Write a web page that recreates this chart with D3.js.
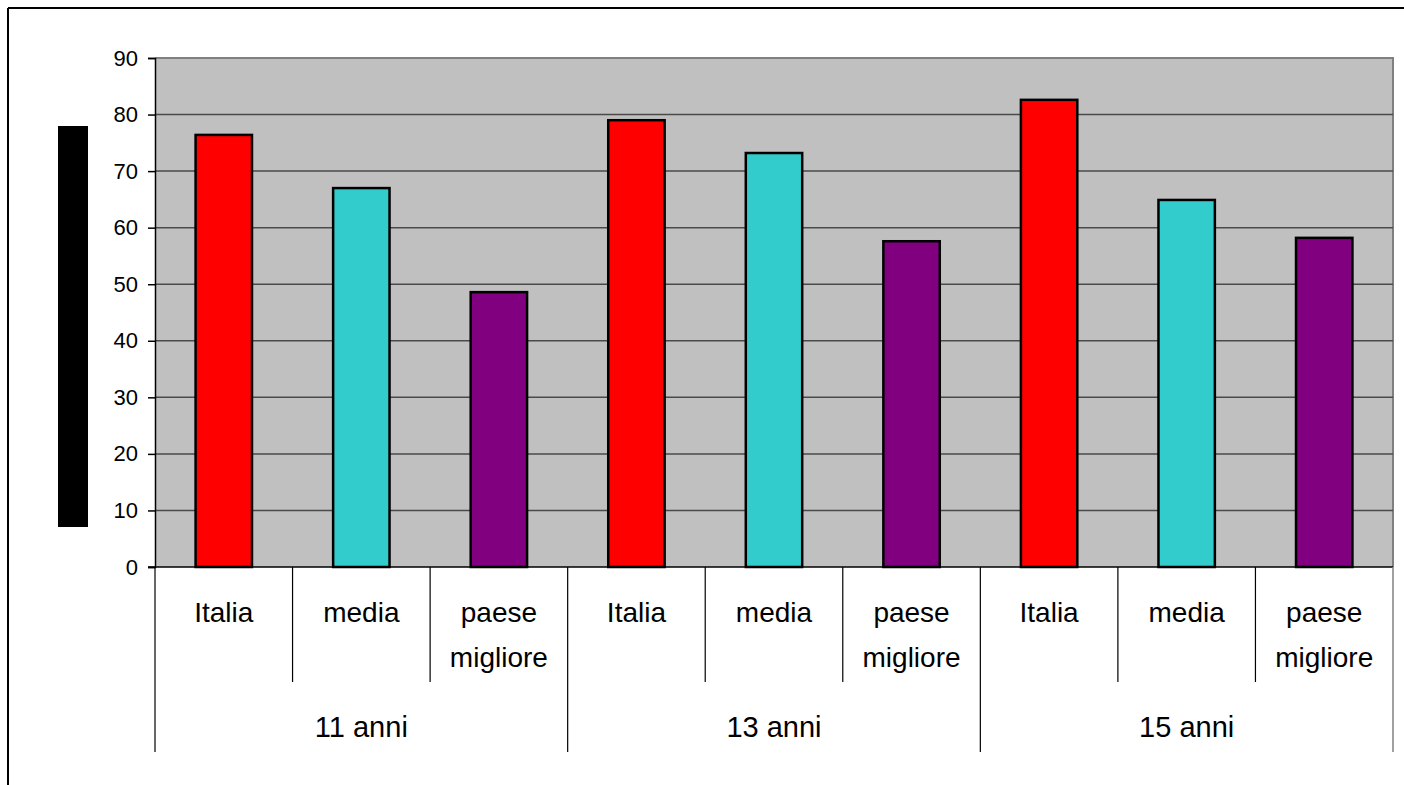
<!DOCTYPE html>
<html>
<head>
<meta charset="utf-8">
<script src="https://d3js.org/d3.v7.min.js"></script>
<style>
  html, body { margin: 0; padding: 0; background: #fff; }
  svg { display: block; font-family: Arial, "Liberation Sans", sans-serif; }
</style>
</head>
<body>
<svg id="chart" width="1404" height="785"></svg>
<script>
// ── Daten ─────────────────────────────────────────
const groups = ['11 anni', '13 anni', '15 anni'];
const series = ['Italia', 'media', 'paese migliore'];
const italia = [76.4, 79.0, 82.6];
const media  = [67.0, 73.2, 64.9];
const paese  = [48.6, 57.6, 58.2];
const yTicks = [0, 10, 20, 30, 40, 50, 60, 70, 80, 90];
const colors = ['#FF0000', '#33CCCC', '#800080'];

const values = [italia, media, paese];
const data = [];
groups.forEach((g, gi) => {
  series.forEach((s, si) => data.push({ group: g, serie: s, value: values[si][gi], idx: si }));
});

// ── Layout ─────────────────────────────────────────
const plotL = 155, plotR = 1393, plotT = 58, plotB = 567;
const svg = d3.select('#chart');

// Rahmen
svg.append('line').attr('x1', 8).attr('y1', 8).attr('x2', 1404).attr('y2', 8)
  .attr('stroke', '#000').attr('stroke-width', 2);
svg.append('line').attr('x1', 8).attr('y1', 8).attr('x2', 8).attr('y2', 785)
  .attr('stroke', '#000').attr('stroke-width', 2);

// Achsentitel (als schwarzer Block)
svg.append('rect').attr('x', 58).attr('y', 126).attr('width', 30).attr('height', 401).attr('fill', '#000');

const x0 = d3.scaleBand().domain(groups).range([plotL, plotR]).padding(0);
const x1 = d3.scaleBand().domain(series).range([0, x0.bandwidth()])
  .paddingInner(0.59).paddingOuter(0.295);
const y = d3.scaleLinear().domain([0, 90]).range([plotB, plotT]);

// Plotfläche
svg.append('rect').attr('x', plotL).attr('y', plotT)
  .attr('width', plotR - plotL).attr('height', plotB - plotT)
  .attr('fill', '#C0C0C0');
svg.append('path')
  .attr('d', `M${plotL},${plotT}H${plotR}V${plotB}`)
  .attr('fill', 'none').attr('stroke', '#808080').attr('stroke-width', 2);

// Gitterlinien
svg.append('g').selectAll('line')
  .data(yTicks.filter(t => t > 0 && t < 90)).join('line')
    .attr('x1', plotL).attr('x2', plotR)
    .attr('y1', d => y(d)).attr('y2', d => y(d))
    .attr('stroke', '#4a4a4a').attr('stroke-width', 1.5);

// Y-Achse
const yAxis = svg.append('g')
  .attr('transform', `translate(${plotL},0)`)
  .call(d3.axisLeft(y).tickValues(yTicks).tickSize(7).tickPadding(10));
yAxis.select('.domain').attr('stroke', '#000').attr('stroke-width', 1.5);
yAxis.selectAll('.tick line').attr('stroke', '#000').attr('stroke-width', 1.5);
yAxis.selectAll('.tick text').attr('font-size', 22).attr('fill', '#000')
  .attr('font-family', 'Arial, "Liberation Sans", sans-serif');

// Balken
svg.append('g').selectAll('rect')
  .data(data).join('rect')
    .attr('x', d => x0(d.group) + x1(d.serie))
    .attr('y', d => y(d.value))
    .attr('width', x1.bandwidth())
    .attr('height', d => y(0) - y(d.value))
    .attr('fill', d => colors[d.idx])
    .attr('stroke', '#000').attr('stroke-width', 2.5);

// X-Achse
svg.append('line').attr('x1', plotL - 7).attr('x2', plotR).attr('y1', plotB).attr('y2', plotB)
  .attr('stroke', '#000').attr('stroke-width', 1.5);

// Trennlinien + Beschriftungen
const step = x0.bandwidth() / series.length;
const cats = svg.append('g');
groups.forEach(g => {
  const gx = x0(g);
  cats.append('line').attr('x1', gx).attr('x2', gx).attr('y1', plotB).attr('y2', 752)
    .attr('stroke', '#000').attr('stroke-width', 1.2);
  series.forEach((s, si) => {
    if (si > 0) {
      const sx = gx + si * step;
      cats.append('line').attr('x1', sx).attr('x2', sx).attr('y1', plotB).attr('y2', 682)
        .attr('stroke', '#000').attr('stroke-width', 1.2);
    }
    const cx = gx + x1(s) + x1.bandwidth() / 2;
    const words = s.split(' ');
    const t = cats.append('text').attr('x', cx).attr('text-anchor', 'middle')
      .attr('font-size', 28).attr('fill', '#000');
    words.forEach((w, wi) => {
      t.append('tspan').attr('x', cx).attr('y', 622 + wi * 45).text(w);
    });
  });
  cats.append('text').attr('x', gx + x0.bandwidth() / 2).attr('y', 737)
    .attr('text-anchor', 'middle').attr('font-size', 29).attr('fill', '#000').text(g);
});
cats.append('line').attr('x1', plotR).attr('x2', plotR).attr('y1', plotB).attr('y2', 752)
  .attr('stroke', '#808080').attr('stroke-width', 1.5);
</script>
</body>
</html>
